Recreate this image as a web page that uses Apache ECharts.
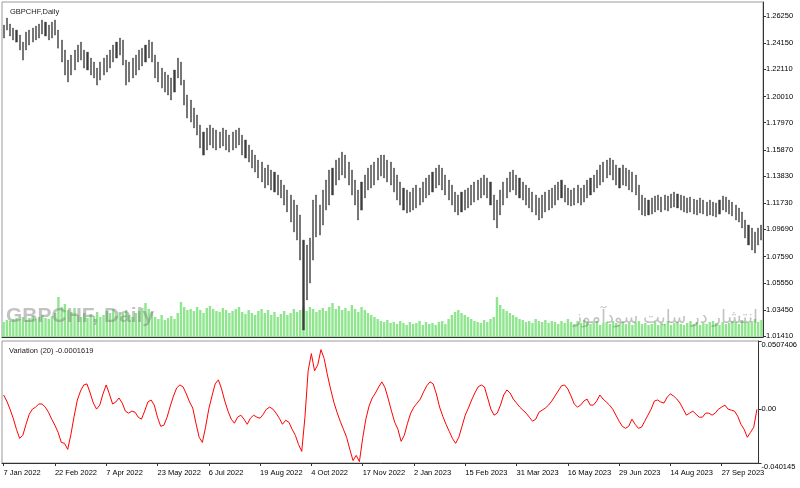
<!DOCTYPE html>
<html>
<head>
<meta charset="utf-8">
<script src="https://cdn.jsdelivr.net/npm/echarts@6/dist/echarts.min.js"></script>
<style>
  html, body { margin: 0; padding: 0; background: #fff; }
  #main { width: 800px; height: 488px; }
</style>
</head>
<body>
<div id="main"></div>
<script>
// GBPCHF daily, one bar per two trading days
var high = [
  1.2555,1.2609,1.2563,1.2532,1.2516,1.2477,1.2423,1.2501,1.2516,1.2532,
  1.2547,1.2563,1.2594,1.2578,1.2555,1.2578,1.2594,1.2516,1.2439,1.2361,
  1.2283,1.2322,1.2361,1.2400,1.2423,1.2361,1.2345,1.2299,1.2268,1.2221,
  1.2268,1.2299,1.2322,1.2361,1.2400,1.2423,1.2454,1.2439,1.2283,1.2268,
  1.2299,1.2322,1.2361,1.2376,1.2400,1.2439,1.2423,1.2322,1.2268,1.2221,
  1.2190,1.2167,1.2144,1.2206,1.2299,1.2268,1.2128,1.2012,1.1973,1.1911,
  1.1857,1.1779,1.1725,1.1756,1.1779,1.1756,1.1740,1.1725,1.1756,1.1740,
  1.1701,1.1725,1.1740,1.1756,1.1701,1.1663,1.1624,1.1585,1.1546,1.1507,
  1.1492,1.1445,1.1469,1.1430,1.1414,1.1391,1.1352,1.1313,1.1275,1.1236,
  1.1197,1.1158,1.1081,1.0886,1.0848,1.0902,1.1197,1.1236,1.1158,1.1275,
  1.1352,1.1430,1.1445,1.1507,1.1523,1.1569,1.1546,1.1492,1.1430,1.1352,
  1.1275,1.1337,1.1391,1.1445,1.1469,1.1492,1.1523,1.1546,1.1546,1.1507,
  1.1492,1.1445,1.1391,1.1337,1.1290,1.1275,1.1259,1.1290,1.1313,1.1290,
  1.1337,1.1368,1.1391,1.1414,1.1445,1.1469,1.1445,1.1391,1.1352,1.1313,
  1.1259,1.1236,1.1259,1.1275,1.1290,1.1313,1.1337,1.1352,1.1368,1.1391,
  1.1368,1.1337,1.1236,1.1197,1.1275,1.1337,1.1368,1.1414,1.1430,1.1391,
  1.1368,1.1337,1.1313,1.1290,1.1259,1.1236,1.1213,1.1236,1.1259,1.1275,
  1.1290,1.1313,1.1337,1.1352,1.1313,1.1290,1.1275,1.1290,1.1313,1.1290,
  1.1313,1.1352,1.1368,1.1391,1.1430,1.1469,1.1492,1.1507,1.1523,1.1507,
  1.1469,1.1445,1.1469,1.1445,1.1430,1.1414,1.1391,1.1313,1.1236,1.1213,
  1.1197,1.1213,1.1228,1.1236,1.1220,1.1236,1.1228,1.1244,1.1259,1.1244,
  1.1236,1.1228,1.1213,1.1220,1.1205,1.1197,1.1213,1.1197,1.1181,1.1197,
  1.1181,1.1174,1.1197,1.1228,1.1220,1.1197,1.1181,1.1158,1.1135,1.1104,
  1.1042,1.1003,1.0980,1.0949,1.0980,1.1003
];
var low = [
  1.2454,1.2516,1.2470,1.2439,1.2423,1.2361,1.2283,1.2361,1.2400,1.2423,
  1.2439,1.2454,1.2485,1.2470,1.2439,1.2454,1.2477,1.2376,1.2268,1.2167,
  1.2113,1.2167,1.2206,1.2268,1.2283,1.2221,1.2206,1.2167,1.2144,1.2089,
  1.2128,1.2167,1.2190,1.2221,1.2268,1.2299,1.2322,1.2245,1.2089,1.2113,
  1.2144,1.2167,1.2206,1.2237,1.2268,1.2299,1.2268,1.2144,1.2113,1.2066,
  1.2035,1.2012,1.1973,1.2035,1.2144,1.2089,1.1934,1.1833,1.1802,1.1756,
  1.1701,1.1601,1.1546,1.1585,1.1624,1.1601,1.1585,1.1601,1.1616,1.1585,
  1.1569,1.1585,1.1601,1.1624,1.1546,1.1523,1.1492,1.1445,1.1414,1.1368,
  1.1337,1.1290,1.1313,1.1275,1.1259,1.1236,1.1213,1.1158,1.1104,1.1026,
  1.0949,1.0886,1.0731,1.0188,1.0421,1.0553,1.0731,1.0910,1.0925,1.1003,
  1.1119,1.1158,1.1236,1.1313,1.1352,1.1391,1.1368,1.1313,1.1236,1.1158,
  1.1042,1.1119,1.1213,1.1275,1.1290,1.1313,1.1352,1.1383,1.1368,1.1337,
  1.1313,1.1259,1.1197,1.1158,1.1119,1.1096,1.1104,1.1119,1.1135,1.1158,
  1.1181,1.1213,1.1236,1.1259,1.1290,1.1313,1.1275,1.1236,1.1197,1.1158,
  1.1104,1.1081,1.1104,1.1119,1.1135,1.1158,1.1181,1.1197,1.1213,1.1236,
  1.1213,1.1158,1.1042,1.0980,1.1081,1.1158,1.1213,1.1259,1.1275,1.1236,
  1.1213,1.1197,1.1158,1.1135,1.1104,1.1081,1.1042,1.1057,1.1104,1.1119,
  1.1135,1.1158,1.1197,1.1213,1.1181,1.1158,1.1150,1.1158,1.1174,1.1158,
  1.1181,1.1213,1.1236,1.1259,1.1290,1.1313,1.1337,1.1368,1.1391,1.1352,
  1.1313,1.1290,1.1313,1.1306,1.1275,1.1259,1.1236,1.1119,1.1081,1.1073,
  1.1081,1.1088,1.1104,1.1119,1.1104,1.1119,1.1112,1.1135,1.1143,1.1135,
  1.1119,1.1104,1.1096,1.1104,1.1088,1.1081,1.1096,1.1088,1.1073,1.1081,
  1.1073,1.1065,1.1088,1.1119,1.1104,1.1088,1.1073,1.1042,1.1026,1.0980,
  1.0902,1.0848,1.0809,1.0786,1.0848,1.0886
];
// tick volume (thousands)
var volume = [
  15,17,16,18,19,18,20,17,19,21,18,20,22,19,18,21,24,40,30,33,
  27,25,29,22,20,24,19,23,21,25,20,22,26,24,28,21,25,23,27,22,
  20,24,26,29,34,28,25,20,18,22,17,19,21,18,24,35,30,27,28,26,
  30,27,24,29,31,28,26,25,29,27,24,26,28,30,25,23,27,24,22,26,
  28,24,27,22,25,20,23,26,22,24,28,25,27,30,26,30,28,25,27,29,
  26,30,34,28,31,27,29,26,32,28,25,30,27,24,22,20,18,16,15,17,
  14,15,13,16,14,12,15,13,14,16,12,15,13,14,12,15,16,13,18,22,
  25,27,24,22,20,18,16,15,14,17,15,18,20,40,32,28,26,24,22,20,
  18,17,15,16,14,18,16,15,17,14,16,15,13,16,14,18,15,13,16,14,
  17,15,13,14,16,12,14,15,13,16,14,12,15,13,14,12,15,16,13,14,
  12,13,15,12,14,13,16,12,14,15,13,12,14,16,13,15,12,14,13,15,
  16,14,12,15,13,14,16,15,13,17,15,14,16,18,15,17
];
// Variation (20)
var variation = [
  0.0105,0.0060,0.0000,-0.0068,-0.0150,-0.0218,-0.0195,-0.0113,-0.0038,0.0000,
  0.0015,0.0038,0.0038,0.0015,-0.0023,-0.0075,-0.0120,-0.0173,-0.0248,-0.0255,
  -0.0300,-0.0188,-0.0053,0.0068,0.0135,0.0180,0.0188,0.0120,0.0045,0.0000,
  0.0030,0.0113,0.0180,0.0113,0.0038,0.0053,0.0083,0.0045,-0.0015,-0.0030,
  -0.0015,-0.0023,-0.0060,-0.0075,-0.0015,0.0053,0.0068,0.0030,-0.0060,-0.0128,
  -0.0120,-0.0060,0.0023,0.0098,0.0158,0.0180,0.0165,0.0113,0.0053,0.0008,
  -0.0105,-0.0210,-0.0248,-0.0135,0.0000,0.0098,0.0188,0.0218,0.0150,0.0060,
  -0.0015,-0.0075,-0.0105,-0.0060,-0.0045,-0.0075,-0.0113,-0.0068,-0.0045,-0.0060,
  -0.0068,-0.0038,0.0000,0.0015,0.0000,-0.0030,-0.0068,-0.0113,-0.0083,-0.0098,
  -0.0150,-0.0195,-0.0263,-0.0315,-0.0060,0.0285,0.0413,0.0285,0.0330,0.0443,
  0.0376,0.0255,0.0150,0.0053,-0.0023,-0.0090,-0.0150,-0.0210,-0.0300,-0.0383,
  -0.0345,-0.0391,-0.0218,-0.0075,0.0023,0.0083,0.0120,0.0165,0.0203,0.0158,
  0.0075,-0.0015,-0.0098,-0.0150,-0.0240,-0.0195,-0.0105,-0.0030,0.0015,0.0045,
  0.0075,0.0128,0.0173,0.0203,0.0188,0.0113,0.0015,-0.0053,-0.0113,-0.0165,
  -0.0218,-0.0255,-0.0210,-0.0128,-0.0045,0.0008,0.0068,0.0120,0.0165,0.0180,
  0.0165,0.0083,0.0000,-0.0045,-0.0030,0.0030,0.0105,0.0143,0.0120,0.0075,
  0.0045,0.0015,-0.0008,-0.0030,-0.0060,-0.0090,-0.0075,-0.0023,-0.0008,0.0008,
  0.0030,0.0060,0.0098,0.0135,0.0173,0.0180,0.0150,0.0098,0.0038,0.0015,
  0.0030,0.0060,0.0075,0.0030,0.0030,0.0060,0.0105,0.0075,0.0053,0.0030,
  0.0000,-0.0045,-0.0090,-0.0128,-0.0143,-0.0128,-0.0075,-0.0113,-0.0143,-0.0135,
  -0.0090,-0.0045,0.0000,0.0060,0.0068,0.0053,0.0045,0.0090,0.0113,0.0098,
  0.0075,0.0045,0.0000,-0.0045,-0.0030,-0.0015,-0.0038,-0.0060,-0.0060,-0.0030,
  -0.0030,-0.0045,-0.0030,0.0000,0.0015,0.0030,0.0000,-0.0008,-0.0015,-0.0053,
  -0.0113,-0.0150,-0.0210,-0.0173,-0.0135,-0.0002
];
var priceTicks = [1.01410, 1.03450, 1.05550, 1.07590, 1.09690, 1.11730, 1.13830,
                  1.15870, 1.17970, 1.20010, 1.22110, 1.24150, 1.26250];
var varTicks = [-0.040145, 0, 0.0507406];
var varTickLabels = ['-0.040145', '0.00', '0.0507406'];
var dateLabels = ['7 Jan 2022', '22 Feb 2022', '7 Apr 2022', '23 May 2022', '6 Jul 2022',
                  '19 Aug 2022', '4 Oct 2022', '17 Nov 2022', '2 Jan 2023', '15 Feb 2023',
                  '31 Mar 2023', '16 May 2023', '29 Jun 2023', '14 Aug 2023', '27 Sep 2023'];
var labelStep = 16;

var font = '"Liberation Sans", Arial, sans-serif';
var categories = [];
var bars = [];
for (var i = 0; i < high.length; i++) {
    categories.push(i);
    bars.push([low[i], high[i], low[i], high[i]]);
}

var chart = echarts.init(document.getElementById('main'));
chart.setOption({
    backgroundColor: '#ffffff',
    animation: false,
    title: [{
        text: 'GBPCHF,Daily', left: 5, top: 3,
        textStyle: { fontSize: 7.5, fontWeight: 'normal', color: '#222', fontFamily: font }
    }, {
        text: 'Variation (20) -0.0001619', left: 4, top: 342,
        textStyle: { fontSize: 7.5, fontWeight: 'normal', color: '#222', fontFamily: font }
    }],
    graphic: [{
        type: 'text', left: 6, top: 306, z: 10,
        style: { text: 'GBPCHF, Daily', font: 'bold 21px ' + font, fill: 'rgba(120,120,120,0.45)' }
    }, {
        type: 'text', right: 42, top: 309, z: 10,
        style: { text: 'انتشار در سایت سودآموز', font: '18px "Noto Sans", "DejaVu Sans", sans-serif', fill: 'rgba(120,120,120,0.45)' }
    }],
    grid: [
        { left: 2, top: 2, right: 37, height: 335, show: true, borderColor: '#9a9a9a', borderWidth: 1 },
        { left: 2, top: 341, right: 37, height: 122, show: true, borderColor: '#9a9a9a', borderWidth: 1 }
    ],
    xAxis: [{
        type: 'category', gridIndex: 0, data: categories,
        axisLine: { show: true, onZero: false, lineStyle: { color: '#333' } },
        axisTick: { show: false }, axisLabel: { show: false }
    }, {
        type: 'category', gridIndex: 1, data: categories,
        axisLine: { show: true, onZero: false, lineStyle: { color: '#333' } },
        axisTick: { show: true, interval: labelStep - 1, alignWithLabel: true, length: 3, lineStyle: { color: '#333' } },
        axisLabel: {
            interval: labelStep - 1, align: 'left', margin: 6,
            fontSize: 7.5, color: '#000', fontFamily: font,
            formatter: function (v, idx) { return dateLabels[Math.round(idx / labelStep)] || ''; }
        }
    }],
    yAxis: [{
        type: 'value', gridIndex: 0, position: 'right', min: 1.0134, max: 1.2734,
        splitLine: { show: false },
        axisLine: { show: true, lineStyle: { color: '#333' } },
        axisTick: { show: true, length: 3, customValues: priceTicks, lineStyle: { color: '#333' } },
        axisLabel: {
            customValues: priceTicks, margin: 3, fontSize: 7.5, color: '#000', fontFamily: font,
            formatter: function (v) { return v.toFixed(5); }
        }
    }, {
        type: 'value', gridIndex: 0, min: 0, max: 335, show: false
    }, {
        type: 'value', gridIndex: 1, position: 'right', min: -0.040145, max: 0.0507406,
        splitLine: { show: false },
        axisLine: { show: true, lineStyle: { color: '#333' } },
        axisTick: { show: true, length: 3, customValues: varTicks, lineStyle: { color: '#333' } },
        axisLabel: {
            customValues: varTicks, margin: 3, fontSize: 7.5, color: '#000', fontFamily: font,
            verticalAlignMaxLabel: 'top', verticalAlignMinLabel: 'top',
            formatter: function (v) {
                var best = 0;
                for (var k = 1; k < varTicks.length; k++) {
                    if (Math.abs(varTicks[k] - v) < Math.abs(varTicks[best] - v)) best = k;
                }
                return varTickLabels[best];
            }
        }
    }],
    series: [{
        name: 'volume', type: 'bar', xAxisIndex: 0, yAxisIndex: 1,
        data: volume, barCategoryGap: '25%', z: 1,
        itemStyle: { color: '#8fe68f' }
    }, {
        name: 'GBPCHF', type: 'candlestick', xAxisIndex: 0, yAxisIndex: 0,
        data: bars, barWidth: 1.6, z: 3,
        itemStyle: { color: '#3c3c3c', color0: '#3c3c3c', borderColor: '#3c3c3c', borderColor0: '#3c3c3c', borderWidth: 0.4 }
    }, {
        name: 'Variation', type: 'line', xAxisIndex: 1, yAxisIndex: 2,
        data: variation, showSymbol: false, smooth: false,
        lineStyle: { color: '#ff0000', width: 1 }
    }]
});
</script>
</body>
</html>
